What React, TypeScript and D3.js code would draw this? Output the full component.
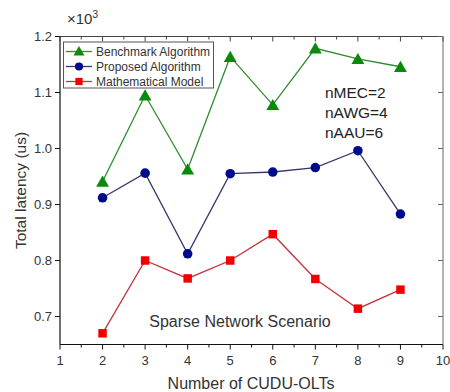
import React from "react";
import * as d3 from "d3";

const cuduOlts = [2, 3, 4, 5, 6, 7, 8, 9];
const benchmark = [0.941, 1.095, 0.963, 1.164, 1.078, 1.179, 1.16, 1.146];
const proposed = [0.912, 0.956, 0.812, 0.955, 0.958, 0.966, 0.996, 0.883];
const mathModel = [0.67, 0.8, 0.768, 0.8, 0.847, 0.767, 0.714, 0.748];
const seriesNames = ["Benchmark Algorithm", "Proposed Algorithm", "Mathematical Model"];
const xTicks = [1, 2, 3, 4, 5, 6, 7, 8, 9, 10];
const yTicks = [0.7, 0.8, 0.9, 1.0, 1.1, 1.2];
const notes = ["nMEC=2", "nAWG=4", "nAAU=6"];

const W = 450;
const H = 392;
const m = { left: 60, right: 443, top: 36.5, bottom: 344.5 };
const FONT = "'Liberation Sans', Arial, sans-serif";

export default function App() {
  const x = d3.scaleLinear().domain([1, 10]).range([m.left, m.right]);
  const y = d3.scaleLinear().domain([0.65, 1.2]).range([m.bottom, m.top]);
  const line = d3
    .line<number>()
    .x((_, i) => x(cuduOlts[i]))
    .y((d) => y(d));

  const xMinor = d3.range(1.5, 10, 1);
  const yMinor = d3.range(0.65, 1.2, 0.1).map((v) => +v.toFixed(2));

  const tri = d3.symbol().type(d3.symbolTriangle).size(72)();
  const circ = d3.symbol().type(d3.symbolCircle).size(72)();
  const sq = d3.symbol().type(d3.symbolSquare).size(72)();

  const series = [
    { name: seriesNames[0], data: benchmark, color: "#0a8a0a", line: "#2e8b2e", shape: tri, dy: 1.5 },
    { name: seriesNames[1], data: proposed, color: "#000a8c", line: "#38386a", shape: circ, dy: 0 },
    { name: seriesNames[2], data: mathModel, color: "#f00000", line: "#c8303c", shape: sq, dy: 0 },
  ];

  return (
    <svg
      width={W}
      height={H}
      style={{ position: "absolute", left: 0, top: 0, background: "#fff" }}
      fontFamily={FONT}
    >
      {/* frame */}
      <line x1={m.left} x2={m.left} y1={m.top} y2={m.bottom} stroke="#111" strokeWidth={1.2} />
      <line x1={m.left} x2={m.right} y1={m.bottom} y2={m.bottom} stroke="#111" strokeWidth={1.2} />
      <line x1={m.left} x2={m.right} y1={m.top} y2={m.top} stroke="#444" strokeWidth={1} />
      <line x1={m.right} x2={m.right} y1={m.top} y2={m.bottom} stroke="#666" strokeWidth={1} />

      {/* x ticks */}
      {xTicks.map((t) => (
        <g key={"xt" + t}>
          <line x1={x(t)} x2={x(t)} y1={m.bottom} y2={m.bottom + 5} stroke="#111" />
          <line x1={x(t)} x2={x(t)} y1={m.top} y2={m.top + 5} stroke="#444" />
          <text x={x(t)} y={m.bottom + 20} textAnchor="middle" fontSize={13} fill="#333">
            {t}
          </text>
        </g>
      ))}
      {xMinor.map((t) => (
        <g key={"xm" + t}>
          <line x1={x(t)} x2={x(t)} y1={m.bottom} y2={m.bottom + 3} stroke="#111" />
          <line x1={x(t)} x2={x(t)} y1={m.top} y2={m.top + 3} stroke="#444" />
        </g>
      ))}

      {/* y ticks */}
      {yTicks.map((t) => (
        <g key={"yt" + t}>
          <line x1={m.left - 5} x2={m.left} y1={y(t)} y2={y(t)} stroke="#111" />
          <line x1={m.right - 5} x2={m.right} y1={y(t)} y2={y(t)} stroke="#666" />
          <text x={m.left - 8} y={y(t) + 4.5} textAnchor="end" fontSize={13} fill="#333">
            {t.toFixed(1)}
          </text>
        </g>
      ))}
      {yMinor.map((t) => (
        <g key={"ym" + t}>
          <line x1={m.left - 3} x2={m.left} y1={y(t + 0.05)} y2={y(t + 0.05)} stroke="#111" />
          <line x1={m.right - 3} x2={m.right} y1={y(t + 0.05)} y2={y(t + 0.05)} stroke="#666" />
        </g>
      ))}

      {/* multiplier */}
      <text x={67} y={24} fontSize={15} fill="#333">
        ×10<tspan dy={-6} fontSize={10}>3</tspan>
      </text>

      {/* axis titles */}
      <text x={251} y={389} textAnchor="middle" fontSize={16} fill="#333">
        Number of CUDU-OLTs
      </text>
      <text
        transform={`translate(26,${(m.top + m.bottom) / 2}) rotate(-90)`}
        textAnchor="middle"
        fontSize={15.5}
        fill="#333"
      >
        Total latency (us)
      </text>

      {/* series */}
      {series.map((s) => (
        <g key={s.name}>
          <path d={line(s.data) ?? ""} fill="none" stroke={s.line} strokeWidth={1.3} />
          {s.data.map((v, i) => (
            <path
              key={i}
              d={s.shape ?? ""}
              transform={`translate(${x(cuduOlts[i])},${y(v) + s.dy})`}
              fill={s.color}
            />
          ))}
        </g>
      ))}

      {/* legend */}
      <rect x={63.5} y={42} width={150} height={46} fill="#fff" stroke="#555" strokeWidth={1} />
      {series.map((s, i) => {
        const ly = 51.5 + i * 15;
        return (
          <g key={"lg" + s.name}>
            <line x1={66} x2={92} y1={ly} y2={ly} stroke={s.line} strokeWidth={1.3} />
            <path d={s.shape ?? ""} transform={`translate(79,${ly + s.dy * 0.6}) scale(0.85)`} fill={s.color} />
            <text x={96} y={ly + 4} fontSize={12} fill="#333">
              {s.name}
            </text>
          </g>
        );
      })}

      {/* parameter notes */}
      {notes.map((n, i) => (
        <text key={n} x={325} y={98 + i * 20} fontSize={15.5} fill="#222">
          {n}
        </text>
      ))}

      <text x={240} y={327} textAnchor="middle" fontSize={16} fill="#333">
        Sparse Network Scenario
      </text>
    </svg>
  );
}
